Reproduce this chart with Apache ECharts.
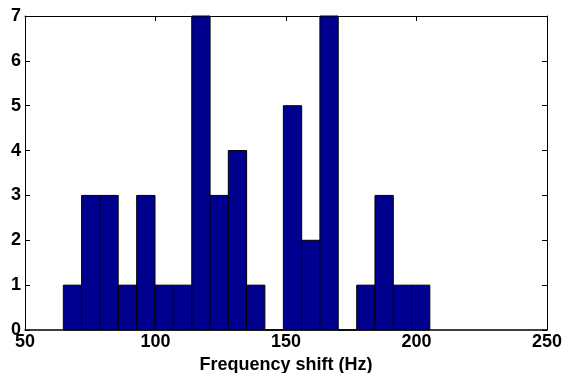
<!DOCTYPE html>
<html>
<head>
<meta charset="utf-8">
<script src="https://cdn.jsdelivr.net/npm/echarts@6/dist/echarts.min.js"></script>
<style>
html,body{margin:0;padding:0;background:#fff;}
#chart{width:565px;height:373px;}
</style>
</head>
<body>
<div id="chart"></div>
<script>
// Histogram bin centers (Hz) and counts
var binCenters = [68.2, 75.2, 82.2, 89.3, 96.3, 103.3, 110.3, 117.4, 124.4, 131.4, 138.4, 145.5, 152.5, 159.5, 166.5, 173.5, 180.6, 187.6, 194.6, 201.6];
var counts = [1, 3, 3, 1, 3, 1, 1, 7, 3, 4, 1, 0, 5, 2, 7, 0, 1, 3, 1, 1];
var binWidth = 7.02;
var xTicks = [50, 100, 150, 200, 250];
var yTicks = [0, 1, 2, 3, 4, 5, 6, 7];

var data = binCenters.map(function (c, i) { return [c, counts[i]]; });
var font = 'Liberation Sans, Arial, Helvetica, sans-serif';

var chart = echarts.init(document.getElementById('chart'));
chart.setOption({
  animation: false,
  grid: { left: 25, right: 18, top: 16, bottom: 43, containLabel: false, outerBoundsMode: 'none' },
  xAxis: [{
    type: 'value', min: xTicks[0], max: xTicks[xTicks.length - 1], interval: 50,
    position: 'bottom',
    name: 'Frequency shift (Hz)', nameLocation: 'middle', nameGap: 19,
    nameTextStyle: { fontFamily: font, fontWeight: 'bold', fontSize: 18, color: '#000' },
    axisLine: { show: true, onZero: false, lineStyle: { color: '#000', width: 1.5 } },
    axisTick: { show: true, inside: true, length: 5, lineStyle: { color: '#000' } },
    axisLabel: { fontFamily: font, fontWeight: 'bold', fontSize: 18, color: '#000', margin: 3 },
    splitLine: { show: false }
  }, {
    type: 'value', min: xTicks[0], max: xTicks[xTicks.length - 1], interval: 50,
    position: 'top',
    axisLine: { show: true, onZero: false, lineStyle: { color: '#000', width: 1 } },
    axisTick: { show: true, inside: true, length: 5, lineStyle: { color: '#000' } },
    axisLabel: { show: false },
    splitLine: { show: false }
  }],
  yAxis: [{
    type: 'value', min: yTicks[0], max: yTicks[yTicks.length - 1], interval: 1,
    position: 'left',
    axisLine: { show: true, onZero: false, lineStyle: { color: '#000', width: 1 } },
    axisTick: { show: true, inside: true, length: 5, lineStyle: { color: '#000' } },
    axisLabel: { fontFamily: font, fontWeight: 'bold', fontSize: 18, color: '#000', margin: 4 },
    splitLine: { show: false }
  }, {
    type: 'value', min: yTicks[0], max: yTicks[yTicks.length - 1], interval: 1,
    position: 'right',
    axisLine: { show: true, onZero: false, lineStyle: { color: '#000', width: 1 } },
    axisTick: { show: true, inside: true, length: 5, lineStyle: { color: '#000' } },
    axisLabel: { show: false },
    splitLine: { show: false }
  }],
  series: [{
    type: 'custom',
    xAxisIndex: 0, yAxisIndex: 0,
    data: data,
    renderItem: function (params, api) {
      var c = api.value(0), v = api.value(1);
      var p0 = api.coord([c - binWidth / 2, 0]);
      var p1 = api.coord([c + binWidth / 2, v]);
      return {
        type: 'rect',
        shape: { x: p0[0], y: p1[1], width: p1[0] - p0[0], height: p0[1] - p1[1] },
        style: { fill: '#00008f', stroke: '#000', lineWidth: 1 }
      };
    }
  }]
});
</script>
</body>
</html>
